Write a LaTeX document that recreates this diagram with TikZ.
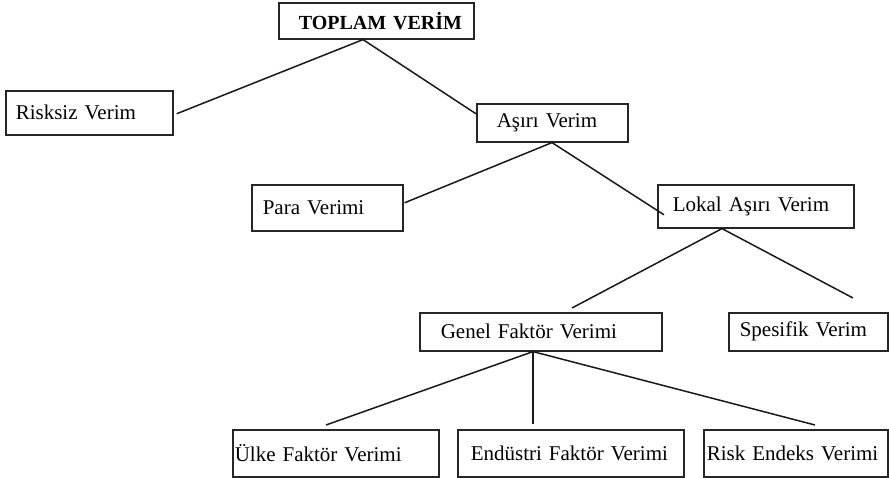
\documentclass[tikz,border=0pt]{standalone}
\usepackage{fontspec}
\setmainfont{Liberation Serif}
\begin{document}
\begin{tikzpicture}[x=1pt,y=-1pt,
  box/.style={draw=black!85, line width=1.6pt, anchor=north west, inner ysep=0pt,
    inner xsep=0pt, align=left, font=\fontsize{21}{25}\selectfont},
  conn/.style={line width=1.5pt, draw=black!90}]
\useasboundingbox (0,0) rectangle (889,478);
\newcommand{\bx}[7]{% name, x, y, w, h, pad, text
  \node[box, text width=#4pt, minimum height=#5pt] (#1) at (#2,#3) {\hspace*{#6pt}#7};}
\bx{top}{278}{2}{195}{36}{20}{\fontsize{20}{24}\selectfont\textbf{TOPLAM VERİM}}
\bx{risk}{5}{90}{167}{44}{10}{Risksiz Verim}
\bx{asiri}{476}{103}{151}{38}{20}{Aşırı Verim}
\bx{para}{251}{184}{151}{46}{11}{Para Verimi}
\bx{lokal}{657}{184}{196}{43}{15}{Lokal Aşırı Verim}
\bx{genel}{419}{312}{242}{38}{21}{Genel Faktör Verimi}
\bx{spes}{728}{312}{159}{38}{11}{Spesifik Verim}
\bx{ulke}{232}{429}{206}{47}{2}{Ülke Faktör Verimi}
\bx{endu}{457}{429}{226}{47}{13}{Endüstri Faktör Verimi}
\bx{riske}{703}{429}{184}{47}{3}{Risk Endeks Verimi}
% apex points and free ends
\coordinate (tA) at ([xshift=85pt]top.south west);
\coordinate (rE) at ([xshift=3pt,yshift=-1pt]risk.east);
\coordinate (aW) at ([yshift=9pt]asiri.west);
\coordinate (aA) at ([xshift=76pt]asiri.south west);
\coordinate (pE) at ([xshift=1pt,yshift=5pt]para.east);
\coordinate (lW) at ([xshift=7pt,yshift=-8.5pt]lokal.west);
\coordinate (lA) at ([xshift=65pt]lokal.south west);
\coordinate (gN) at ([xshift=153pt,yshift=4pt]genel.north west);
\coordinate (sN) at ([xshift=125pt,yshift=14pt]spes.north west);
\coordinate (gA) at ([xshift=114pt]genel.south west);
\coordinate (uN) at ([xshift=94pt,yshift=4pt]ulke.north west);
\coordinate (eN) at ([xshift=76pt,yshift=5pt]endu.north west);
\coordinate (kN) at ([xshift=112pt,yshift=4pt]riske.north west);
\draw[conn] (rE) -- (tA) -- (aW);
\draw[conn] (pE) -- (aA) -- (lW);
\draw[conn] (gN) -- (lA) -- (sN);
\draw[conn] (gA) -- (uN);
\draw[conn] (gA) -- (eN);
\draw[conn] (gA) -- (kN);
\end{tikzpicture}
\end{document}
